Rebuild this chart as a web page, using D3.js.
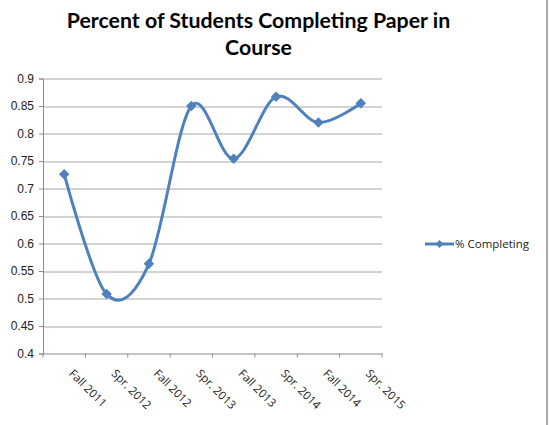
<!DOCTYPE html>
<html>
<head>
<meta charset="utf-8">
<script src="https://cdn.jsdelivr.net/npm/d3@7"></script>
<style>
body { margin: 0; background: #fff; }
svg { font-family: "Open Sans", sans-serif; }
</style>
</head>
<body>
<svg id="chart"></svg>
<script>
var categories = ["Fall 2011", "Spr. 2012", "Fall 2012", "Spr. 2013", "Fall 2013", "Spr. 2014", "Fall 2014", "Spr. 2015"];
var completing = [0.726, 0.508, 0.563, 0.850, 0.754, 0.867, 0.820, 0.855];
var yTicks = [0.4, 0.45, 0.5, 0.55, 0.6, 0.65, 0.7, 0.75, 0.8, 0.85, 0.9];
var seriesName = "% Completing";

var W = 550, H = 425;
var margin = {top: 78.5, right: 168, bottom: 71.5, left: 43}
  , width = W - margin.left - margin.right
  , height = H - margin.top - margin.bottom;

var blue = "#4f81bd";

var svg = d3.select("#chart").attr("width", W).attr("height", H);

// title
svg.append("text")
    .attr("x", 258.5).attr("y", 28)
    .attr("text-anchor", "middle")
    .style("font-family", "Lato, sans-serif")
    .style("font-weight", "bold").style("font-size", "21.3px")
    .text("Percent of Students Completing Paper in");
svg.append("text")
    .attr("x", 258.5).attr("y", 55)
    .attr("text-anchor", "middle")
    .style("font-family", "Lato, sans-serif")
    .style("font-weight", "bold").style("font-size", "21.3px")
    .text("Course");

// right border of chart area
svg.append("line")
    .attr("x1", 547).attr("x2", 547).attr("y1", 0).attr("y2", H)
    .attr("stroke", "#8c8c8c").attr("stroke-width", 1.5);

var g = svg.append("g")
    .attr("transform", "translate(" + margin.left + "," + margin.top + ")");

var xScale = d3.scaleBand().domain(categories).range([0, width]);
var yScale = d3.scaleLinear().domain([0.4, 0.9]).range([height, 0]);

// gridlines
g.selectAll("line.grid")
    .data(yTicks.slice(1))
    .enter().append("line")
    .attr("class", "grid")
    .attr("x1", 0).attr("x2", width)
    .attr("y1", function(d) { return Math.round(yScale(d)) + 0.5; })
    .attr("y2", function(d) { return Math.round(yScale(d)) + 0.5; })
    .attr("stroke", "#a6a6a6").attr("stroke-width", 1);

// y axis
var yAxis = g.append("g")
    .call(d3.axisLeft(yScale).tickValues(yTicks).tickSize(4).tickFormat(function(d) { return d3.format("")(+d.toFixed(2)); }));
yAxis.select(".domain").attr("stroke", "#8c8c8c");
yAxis.selectAll(".tick line").attr("stroke", "#8c8c8c");
yAxis.selectAll("text").attr("x", -9).style("font-size", "12px").attr("fill", "#222");

// x axis
var xAxis = g.append("g")
    .attr("transform", "translate(0," + height + ")")
    .call(d3.axisBottom(xScale).tickSize(0).tickFormat(""));
xAxis.select(".domain").attr("stroke", "#8c8c8c");
g.selectAll("line.xtick")
    .data(d3.range(categories.length + 1))
    .enter().append("line")
    .attr("class", "xtick")
    .attr("x1", function(i) { return i * xScale.step(); })
    .attr("x2", function(i) { return i * xScale.step(); })
    .attr("y1", height).attr("y2", height + 4)
    .attr("stroke", "#8c8c8c");

g.selectAll("text.xlabel")
    .data(categories)
    .enter().append("text")
    .attr("class", "xlabel")
    .attr("transform", function(d) {
        return "translate(" + (xScale(d) + xScale.bandwidth() / 2 + 7) + "," + (height + 18) + ") rotate(45)";
    })
    .attr("dy", "0.35em")
    .style("font-size", "11.5px").attr("fill", "#222")
    .text(function(d) { return d; });

// smoothed line
var line = d3.line()
    .x(function(d, i) { return xScale(categories[i]) + xScale.bandwidth() / 2; })
    .y(function(d) { return yScale(d); })
    .curve(d3.curveCatmullRom.alpha(0));

g.append("path")
    .datum(completing)
    .attr("fill", "none")
    .attr("stroke", blue)
    .attr("stroke-width", 3)
    .attr("d", line);

var diamond = d3.symbol().type(d3.symbolDiamond2).size(70);
g.selectAll("path.marker")
    .data(completing)
    .enter().append("path")
    .attr("class", "marker")
    .attr("d", diamond)
    .attr("fill", blue)
    .attr("transform", function(d, i) {
        return "translate(" + (xScale(categories[i]) + xScale.bandwidth() / 2) + "," + yScale(d) + ")";
    });

// legend
var legend = svg.append("g").attr("transform", "translate(425,244)");
legend.append("line")
    .attr("x1", 0).attr("x2", 29).attr("y1", 0).attr("y2", 0)
    .attr("stroke", blue).attr("stroke-width", 3);
legend.append("path")
    .attr("d", d3.symbol().type(d3.symbolDiamond2).size(40))
    .attr("fill", blue)
    .attr("transform", "translate(14.5,0)");
legend.append("text")
    .attr("x", 30).attr("y", 0).attr("dy", "0.35em")
    .style("font-size", "11.5px").attr("fill", "#222")
    .text(seriesName);
</script>
</body>
</html>
